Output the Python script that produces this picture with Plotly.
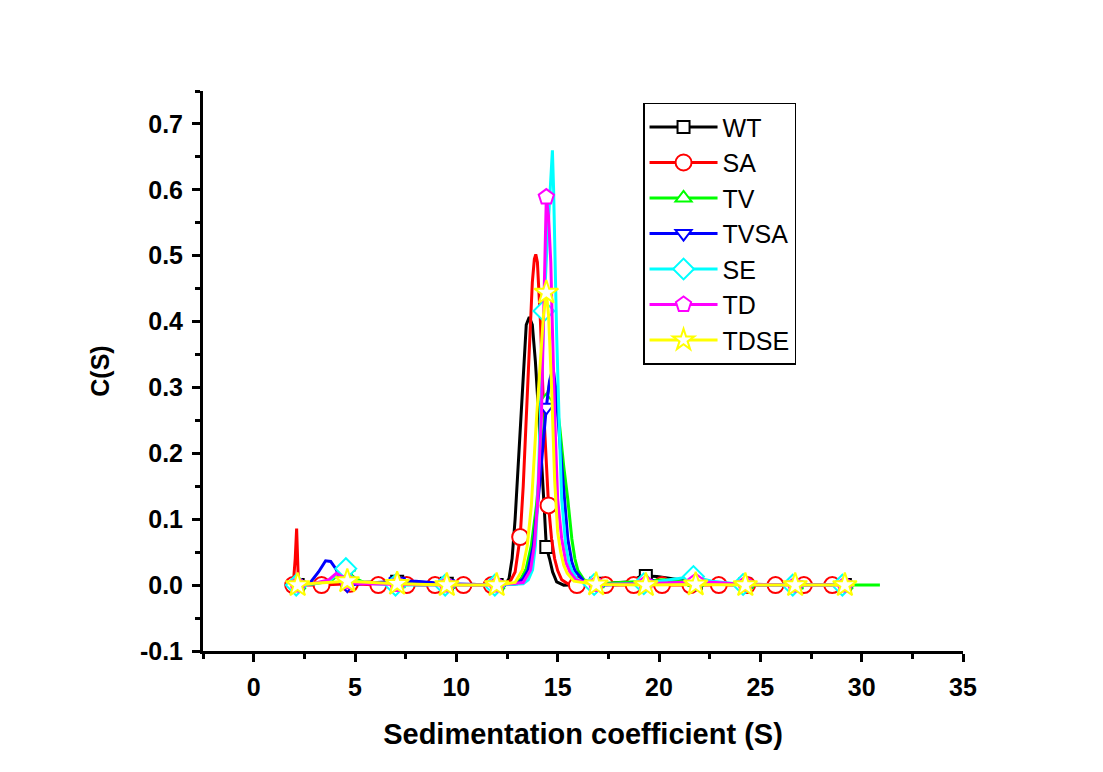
import plotly.graph_objects as go

# ---------------- data ----------------
NAMES = ["WT", "SA", "TV", "TVSA", "SE", "TD", "TDSE"]
COLORS = ["#000000", "#FF0000", "#00FF00", "#0000FF", "#00FFFF", "#FF00FF", "#FFFF00"]
SYMBOLS = ["square", "circle", "triangle-up", "triangle-down", "diamond", "pentagon", "star"]
MSIZES = [12, 16, 14, 14, 16, 16, 18]

X_TICKS = [0, 5, 10, 15, 20, 25, 30, 35]
X_LABELS = ["0", "5", "10", "15", "20", "25", "30", "35"]
Y_TICKS = [-0.1, 0.0, 0.1, 0.2, 0.3, 0.4, 0.5, 0.6, 0.7]
Y_LABELS = ["-0.1", "0.0", "0.1", "0.2", "0.3", "0.4", "0.5", "0.6", "0.7"]

WT_S = [2.17, 3.0, 4.62, 6.0, 7.08, 8.5, 9.53, 11.0, 11.99, 12.4, 12.6, 12.75, 12.9, 13.1,
        13.3, 13.45, 13.6, 13.75, 13.9, 14.05, 14.2, 14.35, 14.44, 14.6, 14.75, 14.95, 15.3,
        16.9, 18.0, 18.7, 19.0, 19.35, 19.9, 20.6, 21.0, 21.81, 24.26, 26.72, 29.17, 29.6]
WT_C = [0.0, 0.002, 0.004, 0.005, 0.005, 0.004, 0.002, 0.001, 0.0, 0.0, 0.01, 0.04, 0.10, 0.21,
        0.33, 0.395, 0.407, 0.395, 0.34, 0.27, 0.19, 0.11, 0.058, 0.04, 0.02, 0.005, 0.0,
        0.002, 0.004, 0.005, 0.012, 0.014, 0.013, 0.01, 0.008, 0.003, 0.001, 0.0, 0.0, 0.0]
WT_MARK = [2.17, 4.62, 7.08, 9.53, 11.99, 14.44, 16.9, 19.35, 21.81, 24.26, 26.72, 29.17]

SA_S = [1.95, 2.05, 2.12, 2.2, 2.35, 3.35, 4.75, 6.15, 7.55, 8.95, 10.35, 11.75, 12.5, 12.7,
        12.9, 13.15, 13.3, 13.45, 13.6, 13.75, 13.85, 13.92, 14.0, 14.15, 14.3, 14.45, 14.55,
        14.7, 14.85, 15.0, 15.2, 15.5, 15.95, 17.35, 18.75, 20.15, 21.55, 22.95, 24.35, 25.75,
        27.15, 28.55, 28.9]
SA_C = [0.0, 0.04, 0.086, 0.01, 0.0, 0.0, 0.002, 0.0, 0.0, 0.0, 0.0, 0.0, 0.002, 0.008,
        0.02, 0.073, 0.15, 0.25, 0.37, 0.46, 0.495, 0.502, 0.49, 0.40, 0.27, 0.17, 0.121,
        0.07, 0.04, 0.022, 0.008, 0.002, 0.0, 0.0, 0.0, 0.0, 0.0, 0.0, 0.0, 0.0,
        0.0, 0.0, 0.0]
SA_MARK = [1.95, 3.35, 4.75, 6.15, 7.55, 8.95, 10.35, 11.75, 13.15, 14.55, 15.95, 17.35,
           18.75, 20.15, 21.55, 22.95, 24.35, 25.75, 27.15, 28.55]

TV_S = [2.17, 3.0, 3.8, 4.3, 4.62, 4.9, 5.5, 7.08, 9.53, 11.99, 12.9, 13.2, 13.45, 13.7,
        13.95, 14.2, 14.44, 14.6, 14.75, 14.9, 15.1, 15.3, 15.5, 15.7, 15.85, 16.0, 16.3,
        16.9, 18.5, 19.35, 20.2, 21.0, 21.81, 24.26, 26.72, 29.17, 30.9]
TV_C = [0.0, 0.002, 0.006, 0.018, 0.027, 0.012, 0.003, 0.002, 0.001, 0.0, 0.002, 0.01, 0.025, 0.06,
        0.12, 0.2, 0.28, 0.305, 0.31, 0.29, 0.24, 0.18, 0.13, 0.07, 0.04, 0.022, 0.008,
        0.002, 0.004, 0.006, 0.008, 0.006, 0.004, 0.001, 0.0, 0.0, 0.0]
TV_MARK = [2.17, 4.62, 7.08, 9.53, 11.99, 14.44, 16.9, 19.35, 21.81, 24.26, 26.72, 29.17]

TVSA_S = [2.17, 2.8, 3.2, 3.55, 3.8, 4.05, 4.35, 4.62, 5.5, 7.08, 8.0, 9.53, 11.99, 13.0,
          13.3, 13.54, 13.8, 14.1, 14.44, 14.6, 14.77, 14.9, 15.1, 15.35, 15.5, 15.7, 15.85,
          16.3, 16.9, 19.35, 21.81, 24.26, 26.72, 29.17, 29.6]
TVSA_C = [0.0, 0.004, 0.02, 0.037, 0.036, 0.025, 0.006, 0.0, 0.003, 0.006, 0.006, 0.002, 0.0, 0.002,
          0.01, 0.023, 0.06, 0.15, 0.27, 0.31, 0.33, 0.3, 0.22, 0.13, 0.07, 0.035, 0.022,
          0.006, 0.0, 0.002, 0.003, 0.0, 0.0, 0.0, 0.0]
TVSA_MARK = [2.17, 4.62, 7.08, 9.53, 11.99, 14.44, 16.9, 19.35, 21.81, 24.26, 26.72, 29.17]

SE_S = [2.1, 3.0, 3.8, 4.2, 4.45, 4.55, 5.0, 6.0, 7.0, 9.45, 11.9, 13.3, 13.55, 13.76,
        13.9, 14.0, 14.1, 14.2, 14.32, 14.45, 14.6, 14.74, 14.8, 14.86, 14.95, 15.1, 15.2,
        15.4, 15.55, 15.7, 16.0, 16.8, 19.25, 20.5, 21.7, 22.6, 24.15, 26.6, 29.05, 29.6]
SE_C = [0.0, 0.002, 0.008, 0.02, 0.028, 0.025, 0.006, 0.002, 0.0, 0.0, 0.0, 0.002, 0.008, 0.023,
        0.06, 0.12, 0.22, 0.31, 0.416, 0.5, 0.58, 0.66, 0.6, 0.49, 0.38, 0.22, 0.13,
        0.06, 0.035, 0.022, 0.007, 0.001, 0.002, 0.008, 0.013, 0.006, 0.001, 0.0, 0.0, 0.0]
SE_MARK = [2.1, 4.55, 7.0, 9.45, 11.9, 14.32, 16.8, 19.25, 21.7, 24.15, 26.6, 29.05]

TD_S = [2.17, 3.0, 3.7, 4.08, 4.4, 4.62, 5.2, 7.08, 9.53, 11.99, 13.3, 13.66, 13.85, 14.0,
        14.1, 14.2, 14.3, 14.36, 14.44, 14.55, 14.66, 14.74, 14.86, 15.0, 15.2, 15.4, 15.6,
        15.9, 16.9, 19.35, 21.81, 22.8, 24.26, 26.72, 29.17, 29.6]
TD_C = [0.0, 0.003, 0.008, 0.018, 0.012, 0.005, 0.002, 0.001, 0.0, 0.0, 0.004, 0.023, 0.06, 0.12,
        0.18, 0.26, 0.4, 0.49, 0.589, 0.56, 0.49, 0.39, 0.25, 0.13, 0.07, 0.035, 0.02,
        0.008, 0.001, 0.002, 0.005, 0.004, 0.001, 0.0, 0.0, 0.0]
TD_MARK = [2.17, 4.62, 7.08, 9.53, 11.99, 14.44, 16.9, 19.35, 21.81, 24.26, 26.72, 29.17]

TDSE_S = [2.17, 3.0, 4.62, 6.0, 7.08, 9.53, 11.99, 12.9, 13.26, 13.5, 13.7, 13.95, 14.15, 14.3,
          14.44, 14.55, 14.7, 14.85, 15.0, 15.15, 15.3, 15.47, 15.8, 16.9, 19.35, 21.81, 24.26,
          26.72, 29.17, 29.65]
TDSE_C = [0.0, 0.003, 0.006, 0.004, 0.002, 0.0, 0.0, 0.004, 0.023, 0.06, 0.12, 0.25, 0.35, 0.41,
          0.444, 0.41, 0.3, 0.16, 0.08, 0.05, 0.03, 0.018, 0.006, 0.001, 0.0, 0.001, 0.0,
          0.0, 0.0, 0.0]
TDSE_MARK = [2.17, 4.62, 7.08, 9.53, 11.99, 14.44, 16.9, 19.35, 21.81, 24.26, 26.72, 29.17]

SERIES = [(WT_S, WT_C, WT_MARK), (SA_S, SA_C, SA_MARK), (TV_S, TV_C, TV_MARK),
          (TVSA_S, TVSA_C, TVSA_MARK), (SE_S, SE_C, SE_MARK), (TD_S, TD_C, TD_MARK),
          (TDSE_S, TDSE_C, TDSE_MARK)]

# ---------------- figure ----------------
fig = go.Figure()
for name, col, sym, ms, (s, c, marks) in zip(NAMES, COLORS, SYMBOLS, MSIZES, SERIES):
    idx = [s.index(m) for m in marks]
    fig.add_trace(go.Scatter(x=s, y=c, mode="lines", line=dict(color=col, width=3),
                             legendgroup=name, showlegend=False, hoverinfo="skip"))
    fig.add_trace(go.Scatter(x=[s[i] for i in idx], y=[c[i] for i in idx], mode="markers",
                             marker=dict(symbol=sym, size=ms, color="white",
                                         line=dict(color=col, width=2)),
                             legendgroup=name, showlegend=False, hoverinfo="skip"))

for name, col, sym, ms in zip(NAMES, COLORS, SYMBOLS, MSIZES):
    fig.add_trace(go.Scatter(x=[None], y=[None], mode="lines+markers", name=name,
                             line=dict(color=col, width=3),
                             marker=dict(symbol=sym, size=ms, color="white",
                                         line=dict(color=col, width=2)),
                             legendgroup=name, showlegend=True))

axis_common = dict(showline=True, linecolor="black", linewidth=3, ticks="outside",
                   tickcolor="black", tickwidth=3, ticklen=8, showgrid=False, zeroline=False,
                   mirror=False, ticklabelstandoff=4,
                   tickfont=dict(family="Arial", size=25, color="black", weight="bold"))

fig.update_xaxes(range=[-2.5, 35], tickmode="array", tickvals=X_TICKS, ticktext=X_LABELS,
                 minor=dict(ticks="outside", tick0=0, dtick=2.5, ticklen=5, tickwidth=3,
                            tickcolor="black"),
                 title=dict(text="Sedimentation coefficient (S)", standoff=24,
                            font=dict(family="Arial", size=29, color="black", weight="bold")),
                 **axis_common)
fig.update_yaxes(range=[-0.1, 0.75], tickmode="array", tickvals=Y_TICKS, ticktext=Y_LABELS,
                 minor=dict(ticks="outside", tick0=0, dtick=0.05, ticklen=5, tickwidth=3,
                            tickcolor="black"),
                 title=dict(text="C(S)", standoff=24,
                            font=dict(family="Arial", size=25, color="black", weight="bold")),
                 **axis_common)

fig.update_layout(
    width=1103, height=772,
    margin=dict(l=203, r=140, t=91, b=121),
    plot_bgcolor="white", paper_bgcolor="white",
    font=dict(family="Arial", color="black"),
    showlegend=True,
    legend=dict(x=0.579, y=0.979, xanchor="left", yanchor="top",
                bgcolor="white", bordercolor="black", borderwidth=1.5,
                font=dict(family="Arial", size=25, color="black"),
                traceorder="normal", itemwidth=68),
)

fig.write_html("out.html", config={"displayModeBar": False},
               post_script="document.body.style.margin='0';")
